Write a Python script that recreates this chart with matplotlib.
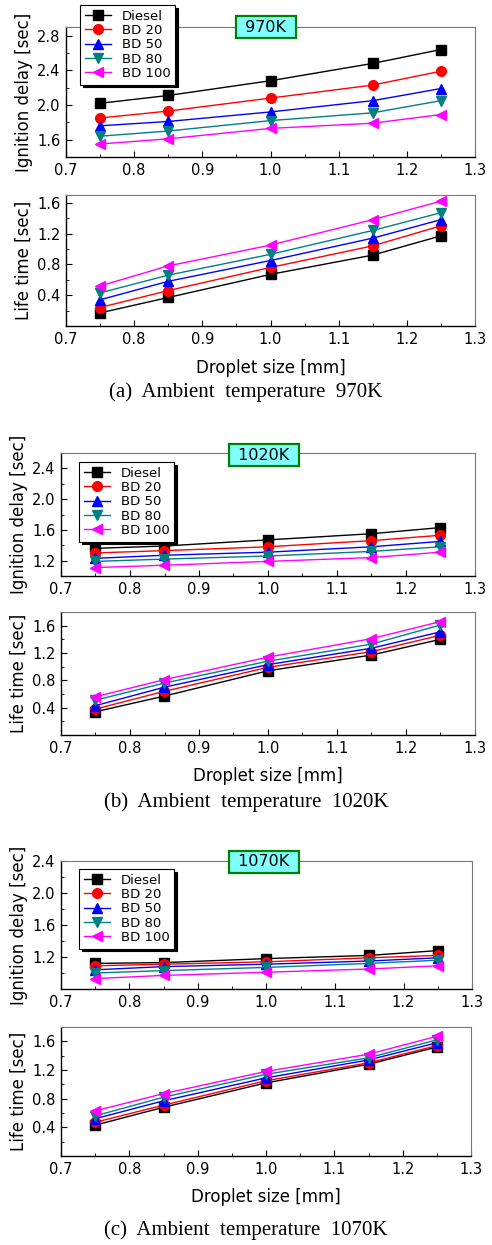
import matplotlib
matplotlib.use("Agg")
import matplotlib.pyplot as plt
from matplotlib.ticker import MultipleLocator, FormatStrFormatter

# -------------------------------------------------------------------
# Data
# -------------------------------------------------------------------
droplet_size = [0.75, 0.85, 1.0, 1.15, 1.25]
fuels = ["Diesel", "BD 20", "BD 50", "BD 80", "BD 100"]

# one row per fuel, same order as `fuels`
ign_970 = [
    [2.02, 2.11, 2.28, 2.48, 2.64],
    [1.85, 1.93, 2.08, 2.23, 2.39],
    [1.76, 1.81, 1.92, 2.05, 2.19],
    [1.64, 1.70, 1.82, 1.91, 2.05],
    [1.55, 1.61, 1.73, 1.79, 1.89],
]
life_970 = [
    [0.17, 0.37, 0.67, 0.92, 1.17],
    [0.24, 0.46, 0.76, 1.04, 1.30],
    [0.34, 0.58, 0.85, 1.14, 1.38],
    [0.43, 0.66, 0.93, 1.24, 1.47],
    [0.52, 0.78, 1.05, 1.38, 1.62],
]
ign_1020 = [
    [1.36, 1.39, 1.47, 1.55, 1.63],
    [1.30, 1.33, 1.38, 1.46, 1.53],
    [1.23, 1.27, 1.31, 1.38, 1.45],
    [1.19, 1.22, 1.26, 1.32, 1.38],
    [1.11, 1.14, 1.19, 1.24, 1.31],
]
life_1020 = [
    [0.34, 0.57, 0.94, 1.17, 1.40],
    [0.38, 0.64, 0.99, 1.22, 1.46],
    [0.43, 0.70, 1.03, 1.27, 1.51],
    [0.51, 0.76, 1.08, 1.33, 1.61],
    [0.56, 0.81, 1.14, 1.41, 1.66],
]
ign_1070 = [
    [1.12, 1.13, 1.18, 1.22, 1.28],
    [1.09, 1.11, 1.14, 1.19, 1.22],
    [1.04, 1.08, 1.11, 1.15, 1.19],
    [1.00, 1.03, 1.07, 1.12, 1.16],
    [0.93, 0.97, 1.01, 1.05, 1.09],
]
life_1070 = [
    [0.43, 0.68, 1.02, 1.28, 1.52],
    [0.47, 0.71, 1.05, 1.30, 1.54],
    [0.52, 0.77, 1.09, 1.34, 1.58],
    [0.56, 0.82, 1.14, 1.37, 1.62],
    [0.63, 0.87, 1.18, 1.42, 1.67],
]

temps = ["970K", "1020K", "1070K"]
captions = ["(a)  Ambient  temperature  970K",
            "(b)  Ambient  temperature  1020K",
            "(c)  Ambient  temperature  1070K"]

# -------------------------------------------------------------------
# Styling
# -------------------------------------------------------------------
colors = ["black", "red", "blue", "#008080", "magenta"]
markers = ["s", "o", "^", "v", "<"]

W, H = 492, 1245
fig = plt.figure(figsize=(W / 100, H / 100), dpi=100)
plt.rcParams["font.family"] = ["DejaVu Sans"]


def px_axes(l, t, r, b):
    return fig.add_axes([l / W, 1 - b / H, (r - l) / W, (b - t) / H])


def style_axes(ax, ylim, ymajor):
    ax.set_xlim(0.7, 1.3)
    ax.set_ylim(*ylim)
    ax.xaxis.set_major_locator(MultipleLocator(0.1))
    ax.xaxis.set_minor_locator(MultipleLocator(0.05))
    ax.xaxis.set_major_formatter(FormatStrFormatter("%.1f"))
    ax.set_yticks(ymajor)
    ax.yaxis.set_minor_locator(MultipleLocator(0.2))
    ax.yaxis.set_major_formatter(FormatStrFormatter("%.1f"))
    ax.tick_params(which="both", direction="in", top=False, right=False,
                   labelsize=10.5, pad=4)
    ax.tick_params(which="major", length=4)
    ax.tick_params(which="minor", length=2.5)
    ax.spines["top"].set_color("#777777")
    ax.spines["right"].set_color("#777777")
    ax.spines["left"].set_linewidth(1.0)
    ax.spines["bottom"].set_linewidth(1.0)


def draw(ax, series):
    for i, fuel in enumerate(fuels):
        ax.plot(droplet_size, series[i], color=colors[i], marker=markers[i],
                markersize=7, linewidth=1.0, label=fuel)


panels = [
    # ignition rect, life rect, ign data, life data, ign ylim, ign ticks, life ylim,
    # legend top-left px, temp box centre px, xlabel y, caption y
    ((66, 27, 475, 157), (66, 195, 475, 326), ign_970, life_970,
     (1.4, 2.9), [1.6, 2.0, 2.4, 2.8], (0.0, 1.7), (80, 5), (266, 27), 368, 392),
    ((61, 453, 475, 576), (61, 612, 475, 735), ign_1020, life_1020,
     (1.0, 2.6), [1.2, 1.6, 2.0, 2.4], (0.0, 1.8), (79, 462), (264, 455), 776, 802),
    ((61, 861, 472, 989), (61, 1027, 471, 1156), ign_1070, life_1070,
     (0.8, 2.4), [1.2, 1.6, 2.0, 2.4], (0.0, 1.8), (79, 869), (264, 862), 1197, 1230),
]

for k, (r_ign, r_life, d_ign, d_life, yl_ign, yt_ign, yl_life,
        leg_xy, box_xy, xlab_y, cap_y) in enumerate(panels):
    ax1 = px_axes(*r_ign)
    draw(ax1, d_ign)
    style_axes(ax1, yl_ign, yt_ign)
    ax1.set_ylabel("Ignition delay [sec]", fontsize=12, labelpad=3)

    ax2 = px_axes(*r_life)
    draw(ax2, d_life)
    style_axes(ax2, yl_life, [0.4, 0.8, 1.2, 1.6])
    ax2.set_ylabel("Life time [sec]", fontsize=12, labelpad=3)

    leg = ax1.legend(loc="upper left",
                     bbox_to_anchor=(leg_xy[0] / W, 1 - leg_xy[1] / H),
                     bbox_transform=fig.transFigure,
                     fontsize=9.5, handlelength=2.0, handletextpad=0.8,
                     labelspacing=0.1, borderpad=0.35, borderaxespad=0,
                     fancybox=False, edgecolor="black", framealpha=1,
                     shadow={"color": "black", "alpha": 1})
    leg.get_frame().set_linewidth(0.8)
    leg.set_zorder(5)

    fig.text(box_xy[0] / W, 1 - box_xy[1] / H, " " + temps[k] + " ", fontsize=11.5,
             ha="center", va="center", zorder=10,
             bbox=dict(boxstyle="square,pad=0.25", facecolor="#80ffff",
                       edgecolor="#008000", linewidth=1.6))

    fig.text((r_life[0] + r_life[2]) / 2 / W, 1 - xlab_y / H, "Droplet size [mm]",
             fontsize=12, ha="center", va="center")
    fig.text(0.5, 1 - cap_y / H, captions[k], fontsize=15,
             family="Liberation Serif", ha="center", va="center")

fig.savefig("out.png", dpi=100)
